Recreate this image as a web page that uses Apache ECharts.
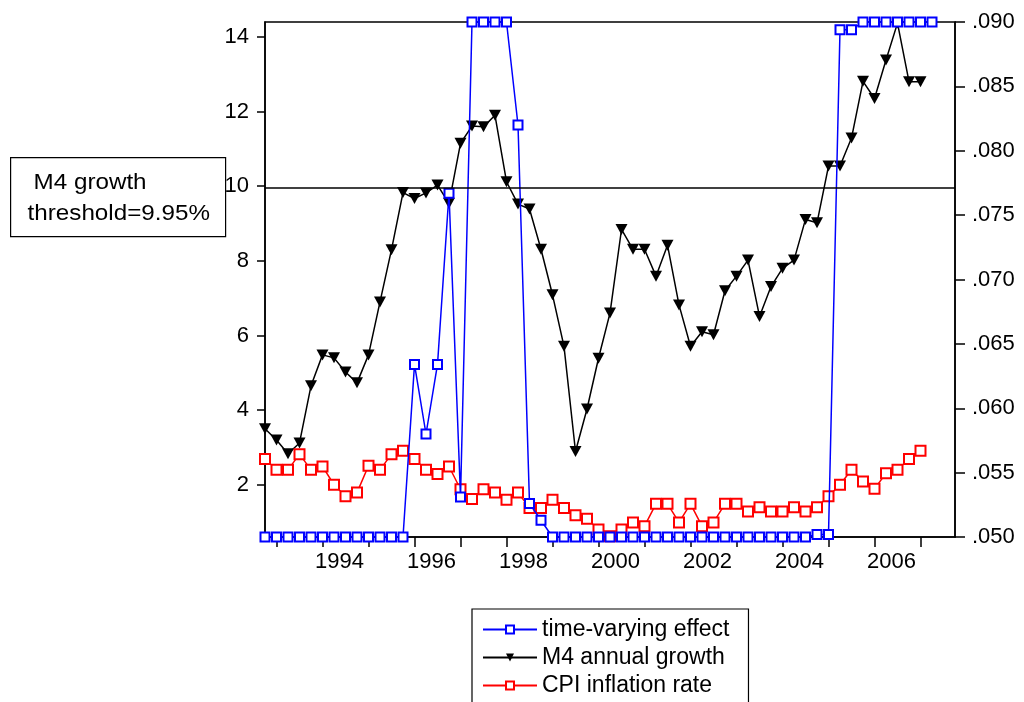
<!DOCTYPE html>
<html>
<head>
<meta charset="utf-8">
<script src="https://cdn.jsdelivr.net/npm/echarts@6/dist/echarts.min.js"></script>
<style>
html,body{margin:0;padding:0;background:#fff;}
#chart{width:1024px;height:702px;}
</style>
</head>
<body>
<div id="chart"></div>
<script>
// Quarterly categories 1992Q4 .. 2007Q4
var quarters = [
 "1992Q4",
 "1993Q1","1993Q2","1993Q3","1993Q4",
 "1994Q1","1994Q2","1994Q3","1994Q4",
 "1995Q1","1995Q2","1995Q3","1995Q4",
 "1996Q1","1996Q2","1996Q3","1996Q4",
 "1997Q1","1997Q2","1997Q3","1997Q4",
 "1998Q1","1998Q2","1998Q3","1998Q4",
 "1999Q1","1999Q2","1999Q3","1999Q4",
 "2000Q1","2000Q2","2000Q3","2000Q4",
 "2001Q1","2001Q2","2001Q3","2001Q4",
 "2002Q1","2002Q2","2002Q3","2002Q4",
 "2003Q1","2003Q2","2003Q3","2003Q4",
 "2004Q1","2004Q2","2004Q3","2004Q4",
 "2005Q1","2005Q2","2005Q3","2005Q4",
 "2006Q1","2006Q2","2006Q3","2006Q4",
 "2007Q1","2007Q2","2007Q3","2007Q4"
];

// time-varying effect (right axis)
var timeVaryingEffect = [
 0.050,0.050,0.050,0.050,0.050,0.050,0.050,0.050,0.050,0.050,0.050,0.050,0.050,
 0.0634,0.0580,0.0634,0.0767,0.0531,
 0.090,0.090,0.090,0.090,
 0.0820,0.0526,0.0513,
 0.050,0.050,0.050,0.050,0.050,0.050,0.050,0.050,0.050,0.050,0.050,0.050,
 0.050,0.050,0.050,0.050,0.050,0.050,0.050,0.050,0.050,0.050,0.050,
 0.0502,0.0502,
 0.0894,0.0894,
 0.090,0.090,0.090,0.090,0.090,0.090,0.090
];

// M4 annual growth (left axis, %)
var m4Growth = [
 3.50,3.20,2.83,3.12,4.65,5.48,5.40,5.02,4.73,5.48,
 6.90,8.30,9.83,9.67,9.82,10.03,9.54,11.15,11.61,11.59,
 11.90,10.12,9.52,9.39,8.31,7.09,5.71,2.89,4.03,5.39,
 6.60,8.84,8.31,8.31,7.59,8.42,6.82,5.71,6.10,6.02,
 7.20,7.59,8.02,6.51,7.31,7.80,8.02,9.11,9.02,10.54,
 10.54,11.29,12.81,12.35,13.38,14.37,12.80,12.80
];

// CPI inflation rate (left axis, %)
var cpiInflation = [
 2.69,2.40,2.40,2.82,2.40,2.49,2.00,1.69,1.79,2.51,
 2.40,2.82,2.91,2.69,2.40,2.29,2.49,1.88,1.62,1.88,
 1.79,1.60,1.79,1.38,1.38,1.60,1.38,1.18,1.09,0.80,
 0.62,0.80,0.99,0.89,1.49,1.49,0.99,1.49,0.89,0.99,
 1.49,1.49,1.28,1.40,1.28,1.28,1.40,1.28,1.40,1.69,
 2.00,2.40,2.09,1.89,2.31,2.40,2.69,2.91
];

var leftTicks = [2,4,6,8,10,12,14];
var threshold = 9.95;
var seriesNames = ["time-varying effect","M4 annual growth","CPI inflation rate"];
var boxLines = ["M4 growth","threshold=9.95%"];

var FONT = "Liberation Sans, Arial, sans-serif";
var chart = echarts.init(document.getElementById('chart'), null, {renderer:'canvas'});

var option = {
  animation: false,
  backgroundColor: '#fff',
  grid: {left: 265, right: 69, top: 22, bottom: 165, show: true, borderColor: '#000', borderWidth: 1.5, containLabel: false},
  xAxis: {
    type: 'category',
    data: quarters,
    boundaryGap: false,
    axisLine: {show: true, lineStyle: {color: '#000', width: 1.5}},
    axisTick: {
      show: true, inside: false, length: 10,
      lineStyle: {color: '#000', width: 1.5},
      interval: function (i, v) { return /Q1$/.test(v); }
    },
    axisLabel: {
      show: true, margin: 14, color: '#000', fontSize: 22, fontFamily: FONT,
      padding: [0, 0, 0, 34],
      interval: function (i, v) { var y = parseInt(v, 10); return /Q1$/.test(v) && y % 2 === 0; },
      formatter: function (v) { return v.slice(0, 4); }
    },
    splitLine: {show: false}
  },
  yAxis: [
    {
      type: 'value', min: 0.6, max: 14.4, position: 'left',
      axisLine: {show: true, lineStyle: {color: '#000', width: 1.5}},
      axisTick: {show: true, inside: false, length: 8, lineStyle: {color: '#000', width: 1.5}, customValues: leftTicks},
      axisLabel: {show: true, margin: 16, color: '#000', fontSize: 22, fontFamily: FONT, customValues: leftTicks},
      splitLine: {show: false}
    },
    {
      type: 'value', min: 0.05, max: 0.09, interval: 0.005, position: 'right',
      axisLine: {show: true, lineStyle: {color: '#000', width: 1.5}},
      axisTick: {show: true, inside: false, length: 10, lineStyle: {color: '#000', width: 1.5}},
      axisLabel: {show: true, margin: 17, color: '#000', fontSize: 22, fontFamily: FONT,
        formatter: function (v) { return v.toFixed(3).replace(/^0/, ''); }},
      splitLine: {show: false}
    }
  ],
  legend: {
    orient: 'vertical',
    left: 472, top: 609,
    width: 300, height: 140,
    backgroundColor: '#fff',
    borderColor: '#000', borderWidth: 1.2,
    padding: [9, 19, 30, 10],
    itemGap: 5,
    itemWidth: 54, itemHeight: 10,
    textStyle: {color: '#000', fontSize: 23, fontFamily: FONT, lineHeight: 22},
    data: seriesNames
  },
  series: [
    {
      name: seriesNames[0], type: 'line', yAxisIndex: 1,
      data: timeVaryingEffect,
      symbol: 'emptyRect', symbolSize: 9, showAllSymbol: true,
      color: '#0000FF',
      lineStyle: {color: '#0000FF', width: 1.5},
      itemStyle: {color: '#0000FF', borderWidth: 1.5},
      z: 3
    },
    {
      name: seriesNames[1], type: 'line', yAxisIndex: 0,
      data: m4Growth,
      symbol: 'triangle', symbolRotate: 180, symbolSize: [12, 11], showAllSymbol: true,
      color: '#000',
      lineStyle: {color: '#000', width: 1.5},
      itemStyle: {color: '#000'},
      markLine: {
        silent: true, symbol: ['none', 'none'],
        label: {show: false},
        lineStyle: {color: '#000', width: 1.5, type: 'solid'},
        data: [{yAxis: threshold}]
      },
      z: 2
    },
    {
      name: seriesNames[2], type: 'line', yAxisIndex: 0,
      data: cpiInflation,
      symbol: 'emptyRect', symbolSize: 10, showAllSymbol: true,
      color: '#FF0000',
      lineStyle: {color: '#FF0000', width: 1.5},
      itemStyle: {color: '#FF0000', borderWidth: 1.5},
      z: 2
    }
  ],
  graphic: [
    {
      type: 'group', left: 10, top: 157,
      children: [
        {type: 'rect', shape: {x: 0, y: 0, width: 215, height: 79}, style: {fill: '#fff', stroke: '#000', lineWidth: 1.2}},
        {type: 'text', x: 23, y: 25, scaleX: 1.1, style: {text: boxLines[0], font: '22px ' + FONT, fill: '#000', textVerticalAlign: 'middle'}},
        {type: 'text', x: 17, y: 56, scaleX: 1.1, style: {text: boxLines[1], font: '22px ' + FONT, fill: '#000', textVerticalAlign: 'middle'}}
      ]
    }
  ]
};
chart.setOption(option);
</script>
</body>
</html>
